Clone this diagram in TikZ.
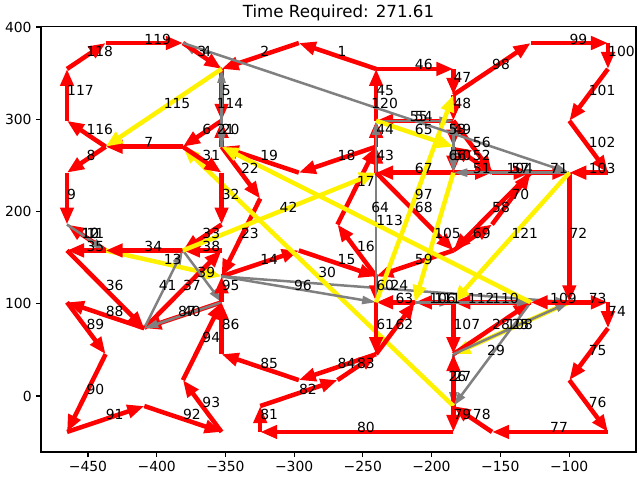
\documentclass[tikz,border=0pt]{standalone}
\usepackage{fontspec}
\setmainfont{DejaVu Sans}
\usetikzlibrary{arrows.meta,calc}
\begin{document}
\begin{tikzpicture}[
  eR/.style={draw=red, line width=4.5pt, -{Triangle[length=17pt,width=13pt]}},
  eG/.style={draw=gray, line width=2.5pt, -{Triangle[length=14pt,width=8pt]}},
  eY/.style={draw=yellow, line width=4.5pt, -{Triangle[length=17pt,width=13pt]}},
  lbl/.style={anchor=base west, inner sep=0pt, yshift=-1pt, font=\fontsize{13.9}{16}\selectfont},
  lR/.style={lbl},
  lY/.style={lbl},
  lG/.style={lbl, xshift=-5pt},
  tickmark/.style={line width=1.1pt},
  ticklbl/.style={inner sep=0pt, font=\fontsize{13.9}{16}\selectfont},
]
\useasboundingbox (0pt,0pt) rectangle (640pt,-480pt);
% axes, ticks, title (pixel coordinates, y downwards)
\begin{scope}[x=1pt,y=-1pt]
  \draw[line width=1.1pt] (41,26.5) rectangle (636,452);
  \foreach \px/\t in {88.0/−450,156.7/−400,225.4/−350,294.1/−300,362.8/−250,431.5/−200,500.3/−150,569.1/−100}{
    \draw[tickmark] (\px,452) -- (\px,456.9);
    \node[ticklbl, anchor=base] at (\px,471.5) {\t};
  }
  \foreach \py/\t in {396/0,303.75/100,211.5/200,119.25/300,27/400}{
    \draw[tickmark] (41,\py) -- (36.1,\py);
    \node[ticklbl, anchor=base east] at (31.8,\py+5) {\t};
  }
  \node[inner sep=0pt, anchor=base, font=\fontsize{16.67}{20}\selectfont] (title) at (338.5,17) {Time Required: 271.61};
\end{scope}
% grid of locations
\begin{scope}[shift={(67pt,-43pt)}, x=38.64pt, y=-25.93pt]
  \foreach \i in {0,...,14}{
    \foreach \j in {0,...,15}{
      \coordinate (g\i-\j) at (\i,\j);
    }
  }
  \def\edgelist{1/8-1/6-0/R, 2/6-0/4-1/R, 3/4-1/3-0/G, 4/3-0/4-1/R, 5/4-1/4-3/R,
    6/4-3/3-4/R, 7/3-4/1-4/R, 8/1-4/0-5/R, 9/0-5/0-7/R, 10/0-7/1-8/G,
    11/1-8/0-7/R, 12/0-7/1-8/G, 13/1-8/4-9/Y, 14/4-9/6-8/R, 15/6-8/8-9/R,
    16/8-9/7-7/R, 17/7-7/8-4/R, 18/8-4/6-5/R, 19/6-5/4-4/R, 20/4-4/4-3/R,
    21/4-3/4-4/G, 22/4-4/5-6/R, 23/5-6/4-9/R, 24/4-9/13-10/G, 25/13-10/10-12/Y,
    26/10-12/10-14/G, 27/10-14/10-12/R, 28/10-12/12-10/R, 29/12-10/10-14/G, 30/10-14/3-4/Y,
    31/3-4/4-5/R, 32/4-5/4-7/R, 33/4-7/3-8/R, 34/3-8/1-8/R, 35/1-8/0-8/R,
    36/0-8/2-11/R, 37/2-11/4-8/R, 38/4-8/3-8/R, 39/3-8/4-10/G, 40/4-10/2-11/R,
    41/2-11/3-8/G, 42/3-8/8-5/Y, 43/8-5/8-4/R, 44/8-4/8-3/R, 45/8-3/8-1/R,
    46/8-1/10-1/R, 47/10-1/10-2/R, 48/10-2/10-3/R, 49/10-3/10-4/R, 50/10-4/10-5/R,
    51/10-5/11-5/R, 52/11-5/10-4/R, 53/10-4/10-3/G, 54/10-3/8-3/R, 55/8-3/10-3/G,
    56/10-3/11-5/R, 57/11-5/12-5/R, 58/12-5/10-8/R, 59/10-8/8-9/R, 60/8-9/8-10/R,
    61/8-10/8-12/R, 62/8-12/9-10/R, 63/9-10/8-10/R, 64/8-10/8-3/G, 65/8-3/10-4/Y,
    66/10-4/10-5/G, 67/10-5/8-5/R, 68/8-5/10-8/R, 69/10-8/11-7/R, 70/11-7/12-5/R,
    71/12-5/13-5/R, 72/13-5/13-10/R, 73/13-10/14-10/R, 74/14-10/14-11/R, 75/14-11/13-13/R,
    76/13-13/14-15/R, 77/14-15/11-15/R, 78/11-15/10-14/R, 79/10-14/10-15/R, 80/10-15/5-15/R,
    81/5-15/5-14/R, 82/5-14/7-13/R, 83/7-13/8-12/R, 84/8-12/6-13/R, 85/6-13/4-12/R,
    86/4-12/4-10/R, 87/4-10/2-11/G, 88/2-11/0-10/R, 89/0-10/1-12/R, 90/1-12/0-15/R,
    91/0-15/2-14/R, 92/2-14/4-15/R, 93/4-15/3-13/R, 94/3-13/4-10/R, 95/4-10/4-9/R,
    96/4-9/8-10/G, 97/8-10/10-2/Y, 98/10-2/12-0/R, 99/12-0/14-0/R, 100/14-0/14-1/R,
    101/14-1/13-3/R, 102/13-3/14-5/R, 103/14-5/13-5/R, 104/13-5/10-5/G, 105/10-5/9-10/Y,
    106/9-10/10-10/G, 107/10-10/10-12/R, 108/10-12/13-10/G, 109/13-10/12-10/R, 110/12-10/10-10/R,
    111/10-10/9-10/R, 112/9-10/12-10/G, 113/12-10/4-4/Y, 114/4-4/4-1/G, 115/4-1/1-4/Y,
    116/1-4/0-3/R, 117/0-3/0-1/R, 118/0-1/1-0/R, 119/1-0/3-0/R, 120/3-0/13-5/G,
    121/13-5/10-10/Y}
  \foreach \n/\a/\b/\s in \edgelist{
    \draw[e\s] (g\a) -- (g\b);
  }
  \foreach \n/\a/\b/\s in \edgelist{
    \node[l\s] (lab\n) at ($(g\a)!0.5!(g\b)$) {\n};
  }
\end{scope}
\end{tikzpicture}
\end{document}
